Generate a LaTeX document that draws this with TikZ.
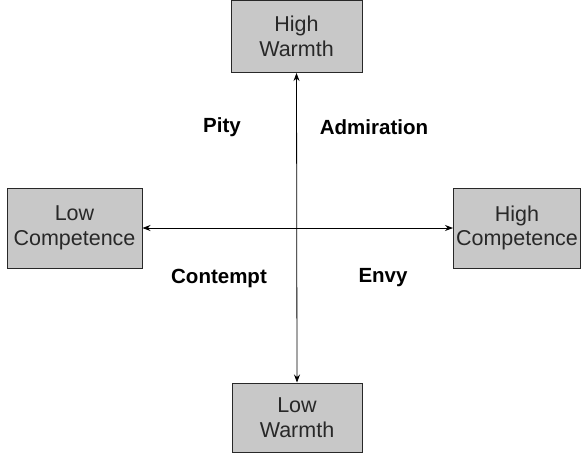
\documentclass[tikz,border=0pt]{standalone}
\usepackage{fontspec}
\setmainfont{Liberation Sans}
\usetikzlibrary{arrows.meta}
\definecolor{boxfill}{RGB}{200,200,200}
\definecolor{ink}{RGB}{40,40,40}
\begin{document}
\begin{tikzpicture}[x=1pt,y=-1pt,
  dimbox/.style={draw=ink, line width=1pt, fill=boxfill, text=ink,
    align=center, inner sep=0pt,
    font=\fontsize{21.5}{24.5}\selectfont},
  quadlabel/.style={text=black, inner sep=0pt,
    font=\fontsize{20.5}{24}\selectfont\bfseries},
  axis/.style={draw=black, line width=0.8pt,
    {Stealth[length=8pt,width=6pt]}-{Stealth[length=8pt,width=6pt]}}]
  \useasboundingbox (0,0) rectangle (581,453);
  % the four poles
  \node[dimbox, minimum width=131pt, minimum height=72pt] (hw) at (296.5,36.5) {High\\Warmth};
  \node[dimbox, minimum width=130pt, minimum height=69pt] (lw) at (297,417.5) {Low\\Warmth};
  \node[dimbox, minimum width=135pt, minimum height=80pt] (lc) at (74.5,228) {Low\\Competence};
  \node[dimbox, minimum width=127pt, minimum height=80pt] (hc) at (517,228) {High\\Competence};
  % axes
  \draw[axis] (hw.south) -- (lw.north);
  \draw[axis] (lc.east) -- (hc.west);
  % quadrant emotions
  \node[quadlabel] (pity) at (222,127) {Pity};
  \node[quadlabel] (adm) at (374,127) {Admiration};
  \node[quadlabel] (con) at (219,278) {Contempt};
  \node[quadlabel] (envy) at (383,278) {Envy};
\end{tikzpicture}
\end{document}
